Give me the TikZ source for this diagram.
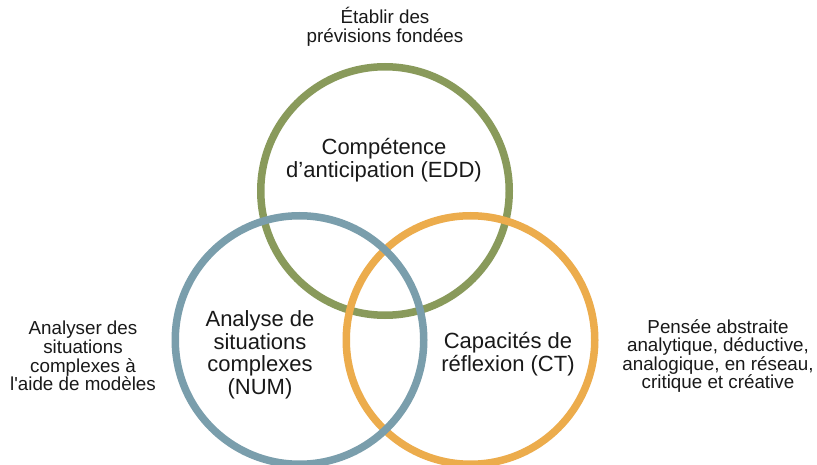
\documentclass[tikz,border=0pt]{standalone}
\usepackage{fontspec}
\setmainfont{Liberation Sans}
\newfontfamily\plainapos{Liberation Sans}
\definecolor{ringgreen}{RGB}{137,154,91}
\definecolor{ringblue}{RGB}{122,158,172}
\definecolor{ringorange}{RGB}{236,172,76}
\definecolor{txt}{RGB}{25,25,25}
\tikzset{
  ring/.style={circle, draw=#1, line width=7.5pt, minimum size=248.5pt, inner sep=0pt},
  intext/.style={align=center, text=txt, font=\fontsize{22}{22.5}\selectfont, inner sep=0pt},
  outtext/.style={align=center, text=txt, font=\fontsize{18.8}{18.6}\selectfont, inner sep=0pt}
}
\begin{document}
\begin{tikzpicture}[x=1pt,y=-1pt]
\useasboundingbox (0,0) rectangle (817,465);
\clip (0,0) rectangle (817,465);
\fill[white] (0,0) rectangle (817,465);
\node[ring=ringgreen] (edd) at (385,191) {};
\node[ring=ringorange] (ct) at (470.5,340) {};
\node[ring=ringblue] (num) at (299.5,340) {};
\node[intext] (eddt) at (384,160) {Compétence\\d’anticipation (EDD)};
\node[intext] (numt) at (260,355) {Analyse de\\situations\\complexes\\(NUM)};
\node[intext] (ctt) at (508,354) {Capacités de\\réflexion (CT)};
\node[outtext] (top) at (385,27) {Établir des\\prévisions fondées};
\node[outtext] (left) at (83,356) {Analyser des\\situations\\complexes à\\l{\plainapos'}aide de modèles};
\node[outtext] (right) at (718,356) {Pensée abstraite\\analytique, déductive,\\analogique, en réseau,\\critique et créative};
\end{tikzpicture}
\end{document}
